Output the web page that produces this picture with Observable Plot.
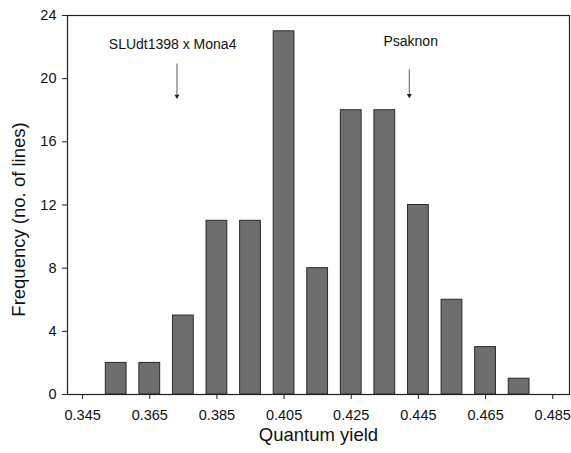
<!DOCTYPE html>
<html>
<head>
<meta charset="utf-8">
<script src="https://cdn.jsdelivr.net/npm/d3@7"></script>
<script src="https://cdn.jsdelivr.net/npm/@observablehq/plot@0.6"></script>
<style>
  html, body { margin: 0; padding: 0; background: #fff; }
  #chart svg { display: block; }
</style>
</head>
<body>
<div id="chart"></div>
<script>
// Data
const binCenters = [0.355, 0.365, 0.375, 0.385, 0.395, 0.405, 0.415, 0.425, 0.435, 0.445, 0.455, 0.465, 0.475];
const counts     = [2, 2, 5, 11, 11, 23, 8, 18, 18, 12, 6, 3, 1];
const binWidth = 0.01;
const xTicks = [0.345, 0.365, 0.385, 0.405, 0.425, 0.445, 0.465, 0.485];
const yTicks = [0, 4, 8, 12, 16, 20, 24];
const annotLabels = ["SLUdt1398 x Mona4", "Psaknon"];
const annotX = [0.3718, 0.4427];
const annotY = [22.17, 22.36];
const arrowX = [0.3731, 0.4423];
const arrowFrom = [20.96, 20.6];
const arrowTo = [18.8, 18.85];
const xTitle = "Quantum yield";
const yTitle = "Frequency (no. of lines)";

const bars = binCenters.map((c, i) => ({x1: c - binWidth / 2, x2: c + binWidth / 2, y: counts[i]}));
const notes = annotLabels.map((t, i) => ({t, x: annotX[i], y: annotY[i], ax: arrowX[i], a1: arrowFrom[i], a2: arrowTo[i]}));

const chart = Plot.plot({
  width: 571,
  height: 453,
  marginLeft: 67,
  marginRight: 2,
  marginTop: 15,
  marginBottom: 59,
  style: {fontFamily: "'Liberation Sans', Arial, sans-serif", fontSize: "14.5px", color: "#111", background: "#fff"},
  x: {domain: [0.3405, 0.4900], ticks: xTicks, tickFormat: d3.format(".3f"), label: null},
  y: {domain: [0, 24], ticks: yTicks, label: null},
  marks: [
    Plot.rectY(bars, {x1: "x1", x2: "x2", y: "y", insetLeft: 6.4, insetRight: 6.4, fill: "#6e6e6e", stroke: "#2a2a2a", strokeWidth: 1}),
    Plot.axisX({ticks: xTicks, tickFormat: d3.format(".3f"), tickSize: 5, tickPadding: 10, stroke: "#222", label: null}),
    Plot.axisY({ticks: yTicks, tickSize: 5, tickPadding: 6, stroke: "#222", label: null}),
    Plot.frame({stroke: "#222", strokeWidth: 1.2}),
    Plot.text(notes, {x: "x", y: "y", text: "t", fontSize: 14, fill: "#111", lineAnchor: "middle"}),
    Plot.link(notes, {x1: "ax", x2: "ax", y1: "a1", y2: "a2", stroke: "#777", strokeWidth: 1.2}),
    Plot.dot(notes, {x: "ax", y: "a2", symbol: "triangle2", rotate: 180, r: 2.4, fill: "#222", stroke: "none", dy: -1.5}),
    Plot.text([xTitle], {frameAnchor: "bottom", text: d => d, textAnchor: "middle", dy: 46, fontSize: 18.5, fill: "#111"}),
    Plot.text([yTitle], {frameAnchor: "left", text: d => d, textAnchor: "middle", dx: -48, dy: 14.5, rotate: -90, fontSize: 18.5, fill: "#111"})
  ]
});
document.getElementById("chart").appendChild(chart);
</script>
</body>
</html>
